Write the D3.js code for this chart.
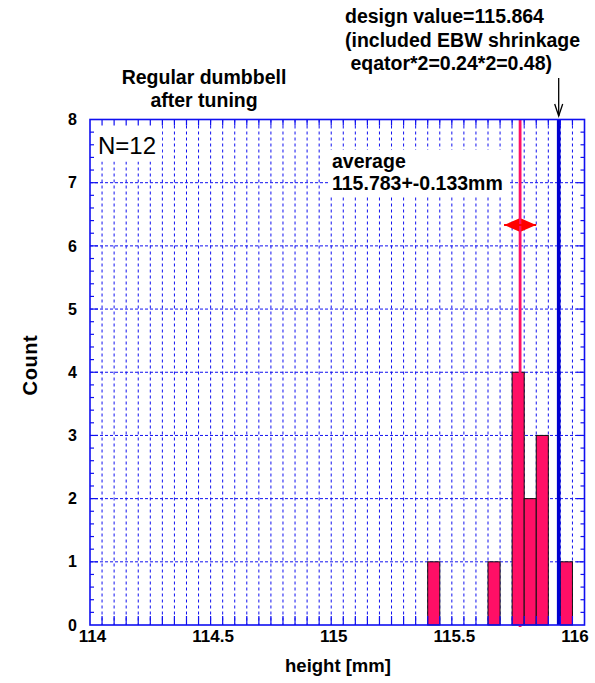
<!DOCTYPE html>
<html>
<head>
<meta charset="utf-8">
<script src="https://cdn.jsdelivr.net/npm/d3@7"></script>
<style>
  html, body { margin: 0; padding: 0; background: #fff; }
  svg { display: block; }
  text { font-family: "Liberation Sans", Arial, Helvetica, sans-serif; }
</style>
</head>
<body>
<svg id="chart" width="595" height="683"></svg>
<script>
// Histogram of measured dumbbell heights (bins of 0.05 mm)
const binStarts = [115.40, 115.65, 115.75, 115.80, 115.85, 115.95];
const binCounts = [1, 1, 4, 2, 3, 1];
const binWidth = 0.05;

// Summary values
const average = 115.783;
const spread = 0.133;
const designLine = 115.943;

// Axis ticks
const xTickValues = [114, 114.5, 115, 115.5, 116];
const xTickLabels = ["114", "114.5", "115", "115.5", "116"];
const yTickValues = [0, 1, 2, 3, 4, 5, 6, 7, 8];

// Annotation text
const titleLines = ["Regular dumbbell", "after tuning"];
const designLines = ["design value=115.864", "(included EBW shrinkage", " eqator*2=0.24*2=0.48)"];
const averageLines = ["average", "115.783+-0.133mm"];

const svg = d3.select("#chart");
const frame = { left: 90, right: 584.5, top: 119.5, bottom: 625 };
const blue = "#1010f0";
const pink = "#ff0f66";

const x = d3.scaleLinear().domain([114, 116.05]).range([frame.left, frame.right]);
const y = d3.scaleLinear().domain([0, 8]).range([frame.bottom, frame.top]);

// Grid: vertical lines every 0.05 mm, horizontal lines at each count
const gridX = d3.range(1, 41).map(i => +(114 + i * 0.05).toFixed(2));
svg.append("g").selectAll("line").data(gridX).join("line")
  .attr("x1", d => x(d)).attr("x2", d => x(d))
  .attr("y1", frame.top).attr("y2", frame.bottom)
  .attr("stroke", blue).attr("stroke-width", 1).attr("stroke-dasharray", "3,3");
svg.append("g").selectAll("line").data(yTickValues.slice(1, -1)).join("line")
  .attr("x1", frame.left).attr("x2", frame.right)
  .attr("y1", d => y(d)).attr("y2", d => y(d))
  .attr("stroke", blue).attr("stroke-width", 1).attr("stroke-dasharray", "3,2");

// White label boxes covering the grid
svg.append("rect").attr("x", frame.left + 1).attr("y", frame.top).attr("width", 71).attr("height", 42).attr("fill", "#fff");
svg.append("rect").attr("x", 328).attr("y", 150).attr("width", 182).attr("height", 47).attr("fill", "#fff");

// Histogram bars
svg.append("g").selectAll("rect").data(binStarts).join("rect")
  .attr("x", d => x(d))
  .attr("width", d => x(d + binWidth) - x(d))
  .attr("y", (d, i) => y(binCounts[i]))
  .attr("height", (d, i) => y(0) - y(binCounts[i]))
  .attr("fill", pink).attr("stroke", "#111").attr("stroke-width", 1);

// Average and design value lines
svg.append("line")
  .attr("x1", x(average)).attr("x2", x(average))
  .attr("y1", frame.top).attr("y2", frame.bottom + 2)
  .attr("stroke", pink).attr("stroke-width", 2.8);
svg.append("line")
  .attr("x1", x(designLine)).attr("x2", x(designLine))
  .attr("y1", frame.top).attr("y2", frame.bottom)
  .attr("stroke", "#0000d0").attr("stroke-width", 3.6);

// Spread arrow (double headed) around the average
const arrowY = y(6.33);
const aL = x(average - spread / 2), aR = x(average + spread / 2);
const head = 15, half = 6.5;
svg.append("line").attr("x1", aL).attr("x2", aR).attr("y1", arrowY).attr("y2", arrowY)
  .attr("stroke", "#ff0000").attr("stroke-width", 2);
svg.append("path")
  .attr("d", `M${aL},${arrowY} L${aL + head},${arrowY - half} L${aL + head},${arrowY + half} Z`)
  .attr("fill", "#ff0000");
svg.append("path")
  .attr("d", `M${aR},${arrowY} L${aR - head},${arrowY - half} L${aR - head},${arrowY + half} Z`)
  .attr("fill", "#ff0000");

// Frame and tick marks
const ticksG = svg.append("g").attr("stroke", blue).attr("stroke-width", 1.2);
const minorX = d3.range(1, 41).map(i => 114 + i * 0.05);
ticksG.selectAll("line.bt").data(minorX).join("line").attr("class", "bt")
  .attr("x1", d => x(d)).attr("x2", d => x(d))
  .attr("y1", frame.bottom).attr("y2", frame.bottom - 9);
ticksG.selectAll("line.tt").data(minorX).join("line").attr("class", "tt")
  .attr("x1", d => x(d)).attr("x2", d => x(d))
  .attr("y1", frame.top).attr("y2", frame.top + 6);
const minorY = d3.range(1, 40).map(i => i * 0.2);
ticksG.selectAll("line.lt").data(minorY).join("line").attr("class", "lt")
  .attr("x1", frame.left).attr("x2", d => frame.left + (Math.abs(d - Math.round(d)) < 1e-6 ? 8 : 4))
  .attr("y1", d => y(d)).attr("y2", d => y(d));
ticksG.selectAll("line.rt").data(minorY).join("line").attr("class", "rt")
  .attr("x1", frame.right).attr("x2", d => frame.right - (Math.abs(d - Math.round(d)) < 1e-6 ? 8 : 4))
  .attr("y1", d => y(d)).attr("y2", d => y(d));
svg.append("rect")
  .attr("x", frame.left).attr("y", frame.top)
  .attr("width", frame.right - frame.left).attr("height", frame.bottom - frame.top)
  .attr("fill", "none").attr("stroke", blue).attr("stroke-width", 1.6);

// Axes (labels only; ticks are drawn on the frame)
const xAxis = d3.axisBottom(x).tickValues(xTickValues)
  .tickFormat((d, i) => xTickLabels[i]).tickSize(0).tickPadding(0);
const gx = svg.append("g").attr("transform", `translate(0,${frame.bottom})`).call(xAxis);
gx.select(".domain").remove();
gx.selectAll("text")
  .attr("y", 17).attr("dy", 0).attr("dx", 2)
  .attr("fill", "#000").style("font-size", "17px").style("font-weight", "bold")
  .style("font-family", '"Liberation Sans", Arial, sans-serif');

const yAxis = d3.axisLeft(y).tickValues(yTickValues).tickFormat(d3.format("d")).tickSize(0).tickPadding(13);
const gy = svg.append("g").attr("transform", `translate(${frame.left},0)`).call(yAxis);
gy.select(".domain").remove();
gy.selectAll("text")
  .attr("fill", "#000").style("font-size", "16px").style("font-weight", "bold")
  .style("font-family", '"Liberation Sans", Arial, sans-serif');

// Axis titles
svg.append("text").attr("x", 338).attr("y", 672).attr("text-anchor", "middle")
  .style("font-size", "18.5px").style("font-weight", "bold").text("height [mm]");
svg.append("text").attr("transform", "translate(37,365) rotate(-90)").attr("text-anchor", "middle")
  .style("font-size", "20px").style("font-weight", "bold").style("letter-spacing", "0.6px").text("Count");

// Entry count
svg.append("text").attr("x", 98).attr("y", 154)
  .style("font-size", "24px").text(`N=${d3.sum(binCounts)}`);

// Title and annotations
svg.append("g").selectAll("text").data(titleLines).join("text")
  .attr("x", 204).attr("y", (d, i) => 84 + i * 23).attr("text-anchor", "middle")
  .style("font-size", "19.5px").style("font-weight", "bold").text(d => d);
svg.append("g").selectAll("text").data(designLines).join("text")
  .attr("x", 345).attr("y", (d, i) => 23 + i * 23.5)
  .style("font-size", "19.5px").style("font-weight", "bold").style("white-space", "pre")
  .attr("xml:space", "preserve").text(d => d);
svg.append("g").selectAll("text").data(averageLines).join("text")
  .attr("x", 332).attr("y", (d, i) => 168 + i * 22)
  .style("font-size", "19.5px").style("font-weight", "bold").text(d => d);

// Arrow from the design value note to its line
const ax = x(designLine);
svg.append("line").attr("x1", ax).attr("x2", ax).attr("y1", 78).attr("y2", 116)
  .attr("stroke", "#000").attr("stroke-width", 1.3);
svg.append("path").attr("d", `M${ax - 4},${104} L${ax},${116} L${ax + 4},${104}`)
  .attr("fill", "none").attr("stroke", "#000").attr("stroke-width", 1.3);
</script>
</body>
</html>
